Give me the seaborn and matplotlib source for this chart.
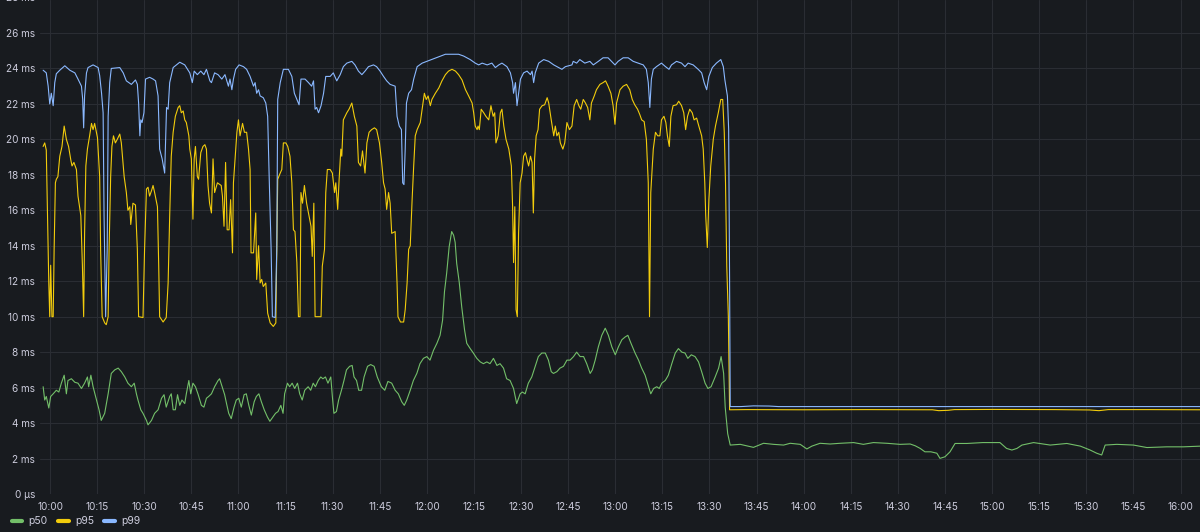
import matplotlib
matplotlib.use("Agg")
import matplotlib.pyplot as plt
import pandas as pd
import seaborn as sns
from matplotlib.lines import Line2D

# ---------------- data ----------------
series_names = ["p50", "p95", "p99"]
series_colors = ["#73BF69", "#F2CC0C", "#8AB8FF"]

# minutes after 10:00
x_tick_minutes = list(range(0, 361, 15))
x_tick_labels = ["10:00", "10:15", "10:30", "10:45", "11:00", "11:15", "11:30", "11:45",
                 "12:00", "12:15", "12:30", "12:45", "13:00", "13:15", "13:30", "13:45",
                 "14:00", "14:15", "14:30", "14:45", "15:00", "15:15", "15:30", "15:45", "16:00"]
y_ticks = list(range(0, 27, 2))
y_tick_labels = ["0 µs", "2 ms", "4 ms", "6 ms", "8 ms", "10 ms", "12 ms", "14 ms",
                 "16 ms", "18 ms", "20 ms", "22 ms", "24 ms", "26 ms"]
y_top_label = "28 ms"

# (minute, ms)
p99_points = [
    (-2.2, 23.9), (-1.2, 23.75), (-0.6, 23.0), (-0.1, 22.0), (0.4, 22.6), (1.0, 21.9), (1.5, 23.2),
    (2.0, 23.7), (3.1, 23.9), (4.7, 24.15), (6.3, 23.9), (7.9, 23.75), (8.9, 23.4), (10.0, 23.0),
    (10.4, 22.25), (10.7, 20.65), (11.0, 22.45), (11.6, 23.75), (12.1, 24.05), (13.7, 24.2),
    (15.3, 24.05), (15.8, 23.6), (16.4, 22.6), (16.9, 21.5), (17.2, 15.7), (17.7, 10.0), (18.2, 13.8),
    (18.5, 21.3), (19.0, 23.2), (19.5, 24.0), (22.2, 24.05), (23.3, 23.75), (24.3, 23.3), (25.9, 23.1),
    (27.2, 23.35), (27.8, 23.1), (28.2, 22.05), (28.6, 20.2), (28.9, 21.1), (29.3, 20.95), (29.9, 21.5),
    (30.4, 23.4), (31.7, 23.5), (32.8, 23.4), (33.6, 23.3), (34.4, 22.45), (34.9, 19.45), (35.7, 18.9),
    (36.5, 18.1), (37.1, 21.8), (37.6, 21.7), (38.1, 23.2), (39.2, 24.05), (41.3, 24.35), (42.9, 24.2),
    (44.5, 23.75), (45.3, 23.2), (45.9, 23.85), (46.9, 23.65), (48.0, 23.85), (49.0, 23.65),
    (49.8, 23.95), (50.9, 23.3), (51.4, 23.2), (52.4, 23.75), (53.5, 23.65),
    (54.7, 23.4), (55.7, 23.65), (56.8, 23.0), (57.3, 23.4), (57.9, 22.8), (58.4, 23.4), (59.1, 23.95),
    (60.2, 24.2), (61.6, 24.1), (62.6, 23.95), (63.7, 23.55), (64.8, 23.0), (65.3, 23.2), (65.8, 22.6),
    (66.4, 22.8), (66.9, 22.45), (67.9, 22.35), (68.7, 22.05), (69.3, 21.3), (69.8, 17.75), (70.4, 13.8),
    (70.8, 10.0), (71.7, 9.95), (72.2, 13.8), (72.5, 22.25), (73.3, 23.2), (74.3, 23.95), (75.9, 23.95),
    (77.0, 23.55), (77.8, 22.6), (78.6, 22.25), (79.3, 21.95), (79.9, 23.4), (81.2, 23.4), (82.3, 23.2),
    (83.3, 23.0), (83.9, 23.3), (84.4, 21.7), (84.9, 21.8), (85.5, 21.5), (86.3, 21.9), (87.1, 22.6),
    (87.8, 23.55), (89.2, 23.55), (90.2, 23.75), (91.3, 23.3), (92.4, 23.65), (93.4, 24.1), (94.5, 24.3),
    (96.1, 24.4), (97.1, 24.2), (98.2, 23.85), (99.3, 23.65), (100.3, 23.85), (101.4, 24.1),
    (103.0, 24.2), (104.0, 24.1), (105.1, 23.85), (106.2, 23.55), (107.2, 23.3), (108.3, 23.1),
    (109.9, 23.0),
    (110.5, 21.3), (111.2, 20.75), (111.9, 20.55), (112.3, 17.55), (112.7, 17.45), (113.1, 19.45),
    (113.5, 22.05), (114.2, 22.6), (115.1, 22.8), (115.8, 23.4), (116.9, 24.1), (118.5, 24.3),
    (120.0, 24.4), (121.6, 24.5), (123.8, 24.65), (125.9, 24.8), (128.0, 24.8), (130.1, 24.8),
    (131.7, 24.7), (133.8, 24.5), (135.4, 24.3), (136.5, 24.2), (137.6, 24.3), (139.2, 24.2),
    (140.7, 24.3), (141.8, 24.05), (142.9, 24.2), (143.9, 24.3), (145.5, 24.1), (146.6, 23.75),
    (147.3, 23.2), (147.6, 22.6), (148.2, 23.2), (148.7, 21.9), (149.2, 22.6), (149.8, 23.4),
    (150.8, 23.75), (151.9, 23.85), (153.0, 23.65), (153.5, 23.85), (154.0, 23.2), (154.5, 23.75),
    (155.6, 24.3), (157.2, 24.5), (158.8, 24.4), (160.4, 24.2), (162.0, 24.05), (163.0, 23.95),
    (164.1, 24.1), (166.2, 24.2),
    (166.6, 24.4), (167.7, 24.3), (168.7, 24.5), (170.3, 24.3), (171.9, 24.4), (173.0, 24.2),
    (174.6, 24.4), (176.1, 24.6), (177.7, 24.6), (178.8, 24.4), (179.9, 24.2), (180.9, 24.4),
    (182.5, 24.6), (184.1, 24.6), (185.7, 24.4), (187.3, 24.3), (188.9, 24.2), (189.9, 23.95),
    (190.5, 23.2), (191.0, 21.8), (191.5, 23.4), (192.1, 23.95), (193.1, 24.1), (194.7, 24.3),
    (196.0, 24.1), (197.1, 23.95), (197.9, 24.2), (199.5, 24.4), (201.1, 24.3), (202.2, 24.1),
    (203.2, 24.3), (204.8, 24.2), (206.4, 23.95), (207.5, 23.75), (208.3, 23.2), (209.1, 22.8),
    (209.8, 23.55), (210.9, 24.05), (212.2, 24.3), (213.6, 24.5), (214.4, 24.1), (214.9, 23.35),
    (215.7, 22.45), (216.1, 20.55), (216.4, 12.0), (216.6, 4.93),
    (220.0, 4.93), (224.0, 4.97), (229.0, 4.96), (232.0, 4.93), (260.0, 4.93), (300.0, 4.93),
    (340.0, 4.93), (366.5, 4.93),
]

p95_points = [
    (-2.2, 19.6), (-1.7, 19.8), (-1.2, 19.4), (-0.8, 15.7), (-0.4, 11.9), (-0.1, 10.0), (0.2, 12.9),
    (0.6, 10.0), (1.0, 10.0), (1.3, 13.8), (1.7, 17.55), (2.0, 17.75), (2.5, 17.9), (3.1, 19.05),
    (3.8, 19.6), (4.5, 20.75), (5.2, 20.0), (5.9, 19.6), (6.6, 18.85), (7.0, 18.5), (7.6, 18.7),
    (8.4, 18.3), (8.9, 16.8), (9.8, 15.7), (10.3, 12.9), (10.7, 10.0), (11.0, 14.7), (11.4, 18.5),
    (11.9, 19.45), (12.6, 20.2), (13.2, 20.9), (13.7, 20.55), (14.2, 20.9), (15.1, 20.1), (15.8, 17.9),
    (16.1, 13.8), (16.6, 10.0), (17.4, 9.65), (17.9, 9.55), (18.5, 10.0), (18.8, 13.8), (19.3, 17.9),
    (19.7, 19.6), (20.2, 20.2), (20.8, 19.8), (21.4, 20.0), (22.2, 20.3), (22.7, 19.8), (23.6, 17.9),
    (24.3, 17.0), (24.8, 16.0), (25.4, 16.2), (25.7, 15.2), (26.4, 16.4), (27.2, 16.3), (27.8, 13.8),
    (28.2, 10.0), (29.6, 9.95), (30.1, 13.8), (30.7, 17.2), (31.2, 17.3), (31.7, 16.8), (32.3, 17.1),
    (32.8, 17.4), (33.3, 17.0), (34.2, 16.2), (34.6, 12.9), (34.9, 10.0), (36.0, 9.7), (37.0, 9.95),
    (37.6, 11.9), (38.1, 15.7), (38.6, 19.05), (39.2, 20.4), (39.9, 21.3), (40.8, 21.8), (41.3, 21.9),
    (41.8, 21.5), (42.4, 21.6), (42.9, 21.1), (43.4, 20.95), (44.2, 20.2), (44.5, 19.45), (45.0, 18.9),
    (45.5, 15.5), (45.9, 18.9), (46.3, 19.6), (46.9, 17.9), (47.3, 17.75), (48.0, 19.25), (48.7, 19.6),
    (49.3, 19.7), (49.8, 19.45), (50.3, 17.4), (50.8, 16.4), (51.4, 15.85), (51.9, 18.9), (52.4, 17.0),
    (53.3, 17.55),
    (54.5, 17.4), (54.9, 16.8), (55.4, 15.1), (55.9, 18.7), (56.4, 14.9), (57.0, 14.9), (57.5, 16.6),
    (58.1, 13.6), (58.4, 17.55), (58.9, 18.85), (59.5, 20.4), (60.0, 21.1), (60.5, 20.2), (61.3, 20.9),
    (61.9, 20.4), (62.6, 20.4), (63.2, 19.45), (63.7, 18.3), (64.0, 13.6), (64.8, 13.6), (65.5, 15.85),
    (65.8, 12.1), (66.4, 14.0), (66.9, 11.9), (67.4, 12.1), (67.9, 11.7), (68.7, 11.9), (69.3, 10.2),
    (70.1, 9.65), (71.1, 9.45), (71.9, 9.65), (72.5, 17.75), (73.3, 18.1), (73.8, 18.3), (74.3, 19.8),
    (75.1, 19.8), (75.7, 19.6), (76.4, 19.05), (77.0, 17.55), (77.5, 14.9), (78.0, 14.8), (78.6, 13.05),
    (79.1, 10.0), (79.6, 10.0), (79.9, 17.0), (80.4, 16.4), (81.0, 17.4), (81.7, 16.4), (82.3, 15.85),
    (83.1, 15.1), (83.5, 13.4), (84.0, 16.4), (84.4, 10.0), (86.3, 10.0), (86.7, 12.85), (87.4, 13.8),
    (87.8, 17.0), (88.3, 18.3), (89.2, 18.3), (89.9, 18.1), (90.6, 17.0), (91.0, 17.55), (91.6, 16.05),
    (92.0, 17.55), (92.6, 19.45), (92.9, 19.05), (93.4, 21.1), (94.5, 21.5), (95.2, 21.7), (96.1, 22.05),
    (96.9, 21.3), (97.7, 20.75), (98.2, 18.7), (98.9, 18.5), (99.5, 19.35), (100.3, 18.1), (100.9, 19.8),
    (101.6, 20.4), (102.4, 20.55), (103.3, 20.65), (104.0, 20.55), (104.9, 19.8), (105.6, 18.7),
    (106.2, 17.55), (106.7, 17.2), (107.2, 16.05), (107.8, 17.0), (108.3, 16.4), (108.8, 14.7),
    (109.9, 14.8),
    (110.5, 11.9), (110.8, 10.0), (111.6, 9.7), (112.6, 9.7), (113.1, 10.4), (113.7, 11.9), (114.2, 13.8),
    (114.7, 14.0), (115.3, 16.6), (115.8, 18.5), (116.3, 20.2), (116.9, 20.55), (117.4, 20.75),
    (117.9, 20.95), (118.5, 21.7), (119.2, 22.6), (119.8, 22.25), (120.4, 22.45), (121.1, 21.9),
    (121.6, 22.25), (122.7, 22.6), (123.8, 22.9), (124.8, 23.3), (125.9, 23.65), (126.9, 23.85),
    (128.0, 23.95), (129.1, 23.85), (130.1, 23.65), (131.2, 23.35), (132.3, 22.8), (133.3, 22.45),
    (134.4, 22.05), (134.9, 21.5), (135.4, 20.75), (136.0, 20.55), (136.3, 20.75), (136.7, 20.55),
    (137.3, 21.7), (138.1, 21.5), (138.8, 21.3), (139.7, 21.1), (140.4, 21.9), (141.1, 21.3),
    (141.6, 21.5), (142.0, 19.8), (142.7, 20.2), (143.4, 21.5), (143.9, 21.7), (144.5, 20.75),
    (145.2, 20.0), (146.1, 19.45), (146.9, 18.5), (147.3, 16.2), (147.6, 13.05), (148.0, 16.2),
    (148.4, 10.4), (148.8, 10.0), (149.2, 14.7), (149.7, 17.55), (150.3, 18.1), (150.8, 19.05),
    (151.4, 19.25), (151.9, 18.85), (152.4, 18.5), (153.0, 19.05), (153.5, 18.7), (153.9, 15.85),
    (154.3, 18.9), (154.8, 20.2), (155.4, 20.55), (155.9, 21.7), (156.7, 21.9), (157.5, 21.95),
    (158.3, 22.35), (158.8, 22.05), (159.6, 21.1), (160.4, 20.2), (160.9, 20.75), (161.4, 20.2),
    (162.0, 20.4), (162.5, 19.8), (163.3, 19.45), (163.9, 19.8), (164.6, 20.95), (165.4, 20.55),
    (166.2, 20.75),
    (166.9, 21.9), (167.7, 22.25), (168.4, 21.9), (169.0, 21.7), (169.8, 22.25), (170.5, 22.05),
    (171.2, 21.8), (171.9, 21.1), (172.4, 22.05), (173.3, 22.45), (174.0, 22.8), (175.1, 23.1),
    (176.1, 23.2), (176.9, 23.3), (177.7, 23.0), (178.6, 22.6), (179.3, 21.9), (179.9, 20.85),
    (180.4, 22.05), (181.5, 22.8), (182.5, 23.0), (183.6, 23.1), (184.6, 22.8), (185.4, 22.25),
    (186.2, 21.95), (187.1, 21.7), (187.8, 21.4), (188.4, 21.1), (189.2, 21.0), (189.9, 20.0),
    (190.5, 17.55), (190.9, 10.0), (191.3, 17.0), (192.1, 19.45), (192.8, 20.4), (193.5, 20.2),
    (194.2, 20.2), (194.7, 21.1), (195.5, 21.3), (196.1, 20.95), (196.6, 20.2), (197.2, 19.6),
    (197.7, 21.3), (198.4, 21.9), (199.5, 21.95), (200.2, 22.15), (201.1, 21.9), (201.8, 21.5),
    (202.4, 20.55), (203.0, 21.3), (203.7, 21.7), (204.5, 21.5), (205.1, 21.1), (205.9, 21.2),
    (206.6, 20.75), (207.5, 20.2), (208.0, 19.45), (208.5, 17.55), (208.8, 15.7), (209.3, 13.9),
    (209.8, 16.6), (210.4, 18.5), (211.2, 20.0), (211.9, 20.75), (212.8, 21.5), (213.6, 22.25),
    (214.2, 22.25), (214.7, 20.4), (215.1, 17.55), (215.5, 12.85), (216.0, 10.0), (216.4, 4.75),
    (222.0, 4.76), (240.0, 4.75), (260.0, 4.76), (281.0, 4.75), (283.0, 4.7), (286.0, 4.72),
    (288.0, 4.76), (300.0, 4.77), (320.0, 4.76), (331.0, 4.74), (334.0, 4.7), (337.0, 4.76),
    (350.0, 4.76), (366.5, 4.75),
]

p50_points = [
    (-2.2, 6.05), (-1.7, 5.3), (-1.2, 5.5), (-0.4, 4.85), (0.2, 5.5), (1.0, 5.65), (2.0, 5.85),
    (2.8, 5.75), (3.6, 6.25), (4.5, 6.7), (5.2, 5.65), (5.7, 6.4), (6.8, 6.5), (7.9, 6.3), (8.9, 6.25),
    (10.0, 5.95), (11.0, 6.25), (11.9, 6.6), (12.3, 6.05), (13.0, 6.7), (13.7, 6.05), (14.8, 5.3),
    (15.6, 4.75), (16.3, 4.15), (17.4, 4.55), (18.5, 5.65), (19.5, 6.8), (20.6, 7.0), (21.7, 7.1),
    (22.7, 6.9), (23.8, 6.6), (24.8, 6.25), (25.9, 6.05), (26.8, 6.25), (27.5, 5.65), (28.0, 5.3),
    (28.9, 4.75), (29.6, 4.55), (30.7, 4.15), (31.2, 3.9), (32.3, 4.15), (33.3, 4.55), (34.4, 4.75),
    (35.5, 5.4), (36.3, 5.6), (37.0, 4.9), (38.1, 5.5), (38.6, 5.65), (39.2, 4.75), (39.9, 4.75),
    (40.6, 5.6), (41.3, 5.0), (42.0, 5.3), (42.9, 5.1), (43.4, 5.65), (44.2, 6.4), (44.8, 5.65),
    (45.5, 6.25), (46.3, 6.05), (47.1, 5.65), (48.2, 5.0), (49.0, 4.9), (49.8, 5.4), (50.5, 5.5),
    (51.4, 5.65), (52.4, 6.05), (53.5, 6.4), (54.0, 6.5), (54.8, 6.05), (55.6, 5.6), (56.2, 5.1),
    (56.9, 4.55), (57.7, 4.25), (58.6, 4.9), (59.3, 5.3), (60.1, 5.4), (60.9, 4.9), (61.8, 5.6),
    (62.5, 5.65), (63.3, 5.0), (64.1, 4.45), (65.0, 5.2), (65.7, 5.5), (66.5, 5.65), (67.3, 5.2),
    (68.2, 4.75), (69.2, 4.35), (70.0, 4.1), (71.0, 4.35), (71.8, 4.55), (72.6, 4.65), (73.5, 5.0),
    (74.2, 4.55), (74.7, 5.65), (75.6, 6.25), (76.3, 6.05), (77.1, 6.25), (77.9, 5.95), (78.8, 6.25),
    (79.5, 5.65), (80.3, 5.3), (81.1, 5.85), (82.2, 6.05), (83.0, 5.85), (83.8, 6.25), (84.5, 6.05),
    (85.4, 6.4), (86.2, 6.6), (86.9, 6.5), (87.7, 6.6), (88.5, 6.25), (89.4, 6.6), (89.9, 5.5),
    (90.4, 4.55), (91.2, 4.65), (91.9, 5.3), (92.8, 5.85), (93.6, 6.4), (94.4, 7.0), (95.4, 7.2),
    (96.2, 7.25), (96.8, 6.6), (97.6, 6.4), (98.3, 5.85), (99.2, 5.85), (100.0, 6.6), (101.1, 7.2),
    (102.1, 7.3), (103.2, 7.2), (104.2, 6.6), (105.5, 6.05), (106.6, 5.85), (107.6, 6.35),
    (108.8, 6.25), (109.9, 5.85), (110.9, 5.65), (112.0, 5.2), (112.8, 5.0), (113.6, 5.3), (114.7, 5.85),
    (115.7, 6.4), (116.8, 6.8), (117.8, 7.35), (118.9, 7.65), (120.0, 7.75), (121.0, 7.55), (122.1, 8.1),
    (123.2, 8.5), (124.2, 8.95), (125.0, 9.8), (125.6, 11.4), (126.3, 12.45), (127.1, 13.95),
    (127.9, 14.8), (128.5, 14.6), (129.0, 14.2), (129.5, 13.0), (130.3, 11.95), (131.1, 10.55),
    (132.0, 9.25), (132.7, 8.5), (133.8, 8.2), (134.8, 7.95), (135.9, 7.65), (137.0, 7.45),
    (138.0, 7.35), (139.1, 7.45), (140.1, 7.35), (141.2, 7.65), (142.3, 7.25), (143.3, 7.35),
    (144.4, 7.1), (145.4, 6.5), (146.5, 6.4), (147.6, 5.95), (148.6, 5.1), (149.7, 5.65), (150.4, 5.75),
    (151.3, 5.65), (152.3, 6.25), (153.4, 6.6), (154.5, 7.2), (155.5, 7.75), (156.6, 7.95),
    (157.7, 7.95), (158.7, 7.55), (159.6, 6.9), (160.3, 6.8), (161.4, 6.9), (162.4, 7.1), (163.5, 7.2),
    (164.6, 7.55), (165.6, 7.55), (166.7, 7.75), (167.7, 8.0), (168.8, 7.75), (169.9, 7.75),
    (170.9, 7.35), (172.0, 6.8), (172.7, 7.0), (173.6, 7.55), (174.6, 8.3), (175.7, 8.95),
    (176.8, 9.35), (177.8, 8.95), (178.9, 8.3), (180.0, 7.85), (181.0, 8.3), (182.1, 8.7),
    (183.1, 8.85), (184.0, 8.95), (185.0, 8.5), (186.3, 7.95), (187.4, 7.55), (188.4, 7.1),
    (189.5, 6.7), (190.6, 6.05), (191.3, 5.65), (192.2, 5.95), (193.2, 6.05), (194.0, 5.95),
    (194.8, 6.25), (195.9, 6.4), (196.9, 6.7), (198.0, 7.35), (199.1, 7.95), (200.1, 8.2),
    (201.2, 8.0), (202.2, 7.95), (203.1, 7.65), (204.2, 7.85), (205.4, 7.75), (206.5, 7.45),
    (207.5, 6.9), (208.6, 6.25), (209.5, 5.95), (210.5, 6.05), (211.8, 6.6), (212.9, 7.1),
    (213.7, 7.75), (214.5, 6.8), (215.0, 4.9), (215.8, 3.4), (216.6, 2.76),
    (219.8, 2.8), (223.0, 2.67), (224.0, 2.63), (227.2, 2.86), (230.4, 2.8), (233.6, 2.76),
    (235.7, 2.86), (238.9, 2.8), (241.0, 2.54), (242.6, 2.7), (245.2, 2.86), (248.4, 2.82),
    (251.6, 2.86), (255.9, 2.9), (259.0, 2.8), (262.2, 2.9), (266.5, 2.86), (270.7, 2.8),
    (273.9, 2.82), (275.5, 2.72), (277.1, 2.57), (278.6, 2.38), (280.5, 2.38), (282.4, 2.3),
    (283.4, 2.01), (285.0, 2.1), (286.6, 2.38), (288.2, 2.85), (292.0, 2.85), (297.0, 2.9),
    (302.5, 2.9), (304.6, 2.57), (306.3, 2.48), (307.9, 2.57), (309.5, 2.76), (313.2, 2.9),
    (318.5, 2.76), (323.8, 2.85), (328.1, 2.7), (331.2, 2.48), (333.3, 2.3), (334.9, 2.2),
    (336.0, 2.76), (339.7, 2.8), (345.0, 2.76), (349.3, 2.62), (355.6, 2.66), (360.9, 2.66),
    (366.5, 2.7),
]

# ---------------- build frame ----------------
rows = []
for name, pts in zip(series_names, [p50_points, p95_points, p99_points]):
    for t, v in pts:
        rows.append((name, t, v))
df = pd.DataFrame(rows, columns=["series", "minute", "ms"])

BG = "#181b1f"
GRID = "#2a2d33"
TEXT = "#ccccdc"

sns.set_theme(style="dark")
plt.rcParams["font.family"] = ["Inter", "DejaVu Sans"]

W, H = 1200, 532
fig = plt.figure(figsize=(W / 100, H / 100), dpi=100, facecolor=BG)
ax = fig.add_axes([40 / W, 1 - 494 / H, 1160 / W, 494 / H])
ax.set_facecolor(BG)

sns.lineplot(data=df, x="minute", y="ms", hue="series", hue_order=series_names,
             palette=dict(zip(series_names, series_colors)), estimator=None, sort=False,
             linewidth=0.8, legend=False, ax=ax)

ax.set_xlim(-3.2, 366.2)
ax.set_ylim(0, 27.86)
ax.set_xticks(x_tick_minutes)
ax.set_xticklabels(x_tick_labels)
ax.set_yticks(y_ticks)
ax.set_yticklabels(y_tick_labels)
ax.set_xlabel("")
ax.set_ylabel("")
ax.grid(True, color=GRID, linewidth=0.8)
ax.set_axisbelow(True)
for s in ax.spines.values():
    s.set_visible(False)
ax.tick_params(axis="both", length=0, colors=TEXT, labelsize=7.2)
ax.tick_params(axis="y", pad=3.6)
ax.tick_params(axis="x", pad=5.5)

# partially cut top tick label (as in the reference)
ax.text(-5 / 1160, 28, y_top_label, transform=ax.get_yaxis_transform(), ha="right",
        va="center", fontsize=7.2, color=TEXT, clip_on=False)

handles = [Line2D([0], [0], color=c, lw=3, solid_capstyle="round") for c in series_colors]
leg = fig.legend(handles, series_names, loc="center left", bbox_to_anchor=(12 / W, 1 - 521.5 / H),
                 ncol=3, frameon=False, fontsize=7.5, handlelength=1.0, handletextpad=0.6,
                 columnspacing=1.0, borderpad=0, borderaxespad=0)
for t in leg.get_texts():
    t.set_color(TEXT)

fig.savefig("out.png", dpi=100, facecolor=BG)
